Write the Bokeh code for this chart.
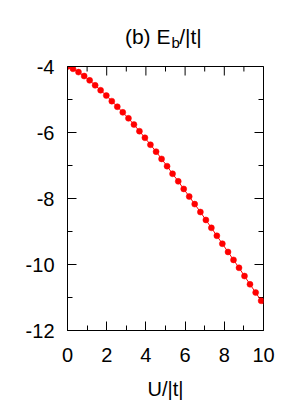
import math
from bokeh.plotting import figure
from bokeh.layouts import column
from bokeh.models import Range1d, FixedTicker
from bokeh.core.properties import value
from bokeh.embed import file_html
from bokeh.resources import INLINE

# data
u = [0.00, 0.28, 0.56, 0.85, 1.13, 1.41, 1.69, 1.98, 2.26, 2.54, 2.82, 3.11,
     3.39, 3.67, 3.95, 4.23, 4.52, 4.80, 5.08, 5.36, 5.65, 5.93, 6.21, 6.49,
     6.78, 7.06, 7.34, 7.62, 7.90, 8.19, 8.47, 8.75, 9.03, 9.31, 9.60, 9.88]
e = [-4.00, -4.07, -4.17, -4.29, -4.42, -4.57, -4.72, -4.88, -5.05, -5.22, -5.39, -5.57,
     -5.76, -5.96, -6.16, -6.37, -6.58, -6.80, -7.02, -7.25, -7.48, -7.71, -7.94, -8.17,
     -8.41, -8.65, -8.89, -9.13, -9.37, -9.62, -9.86, -10.10, -10.35, -10.60, -10.85, -11.10]
line_u = u + [10.0]
line_e = e + [-11.21]

x_ticks = [0, 2, 4, 6, 8, 10]
x_minor = [1, 3, 5, 7, 9]
y_ticks = [-12, -10, -8, -6, -4]
y_minor = [-11, -9, -7, -5]
x_min, x_max = 0, 10
y_min, y_max = -12, -4

title_main = "(b) E"
title_sub = "b"
title_rest = "/|t|"
x_label = "U/|t|"

FONT = "Liberation Sans"
W = 300
BL, BR = 67, 37          # left / right borders shared by all strips
H_TITLE = 56
H_XLAB = 30
H_MAIN = 400 - H_TITLE - H_XLAB

xr = Range1d(x_min, x_max)


def strip(height):
    f = figure(width=W, height=height, x_range=xr, y_range=Range1d(0, height),
               title=None, min_border_left=BL, min_border_right=BR,
               min_border_top=0, min_border_bottom=0,
               x_axis_location=None, y_axis_location=None,
               output_backend="svg", toolbar_location=None)
    f.xgrid.visible = False
    f.ygrid.visible = False
    f.outline_line_color = None
    f.background_fill_color = "white"
    f.border_fill_color = "white"
    return f


# ---- title strip ----
t = strip(H_TITLE)
t.text(x=[2.93], y=[20.5], text=[title_main], text_font=value(FONT),
       text_font_size=value("21px"), text_align="left", text_baseline="alphabetic",
       text_color="black")
t.text(x=[5.30], y=[14.0], text=[title_sub], text_font=value(FONT),
       text_font_size=value("15px"), text_align="left", text_baseline="alphabetic",
       text_color="black")
t.text(x=[5.70], y=[20.5], text=[title_rest], text_font=value(FONT),
       text_font_size=value("21px"), text_align="left", text_baseline="alphabetic",
       text_color="black")

# ---- main plot ----
p = figure(width=W, height=H_MAIN, title=None,
           min_border_left=BL, min_border_right=BR,
           min_border_top=10, min_border_bottom=40,
           x_range=xr, y_range=Range1d(y_min, y_max),
           output_backend="svg", toolbar_location=None)
p.xgrid.visible = False
p.ygrid.visible = False
p.outline_line_color = "black"
p.outline_line_width = 1
p.background_fill_color = "white"
p.border_fill_color = "white"


def style_axis(ax, ticks, minor):
    ax.ticker = FixedTicker(ticks=ticks, minor_ticks=minor)
    ax.major_label_overrides = {tk: str(tk) for tk in ticks}
    ax.major_tick_in = 9
    ax.major_tick_out = 0
    ax.minor_tick_in = 5
    ax.minor_tick_out = 0
    ax.major_tick_line_color = "black"
    ax.minor_tick_line_color = "black"
    ax.axis_line_color = "black"
    ax.major_label_text_font = FONT
    ax.major_label_text_font_size = "20px"
    ax.major_label_text_color = "black"


style_axis(p.xaxis[0], x_ticks, x_minor)
p.xaxis[0].major_label_standoff = 17
style_axis(p.yaxis[0], y_ticks, y_minor)
p.yaxis[0].major_label_standoff = 13

# mirrored inward ticks on top and right (outer half of each dash is clipped by the frame)
p.scatter(x_ticks, [y_max] * len(x_ticks), marker="dash", size=18, angle=math.pi / 2,
          line_color="black", line_width=1)
p.scatter(x_minor, [y_max] * len(x_minor), marker="dash", size=10, angle=math.pi / 2,
          line_color="black", line_width=1)
p.scatter([x_max] * len(y_ticks), y_ticks, marker="dash", size=18,
          line_color="black", line_width=1)
p.scatter([x_max] * len(y_minor), y_minor, marker="dash", size=10,
          line_color="black", line_width=1)

p.line(line_u, line_e, line_color="red", line_width=1)
p.scatter(u, e, size=6, fill_color="red", line_color="red", line_width=0.5)

# ---- x-axis label strip ----
b = strip(H_XLAB)
b.text(x=[(x_min + x_max) / 2], y=[11.5], text=[x_label], text_font=value(FONT),
       text_font_size=value("20px"), text_align="center", text_baseline="alphabetic",
       text_color="black")

layout = column(t, p, b, spacing=0)
open("out.html", "w").write(file_html(layout, INLINE))
